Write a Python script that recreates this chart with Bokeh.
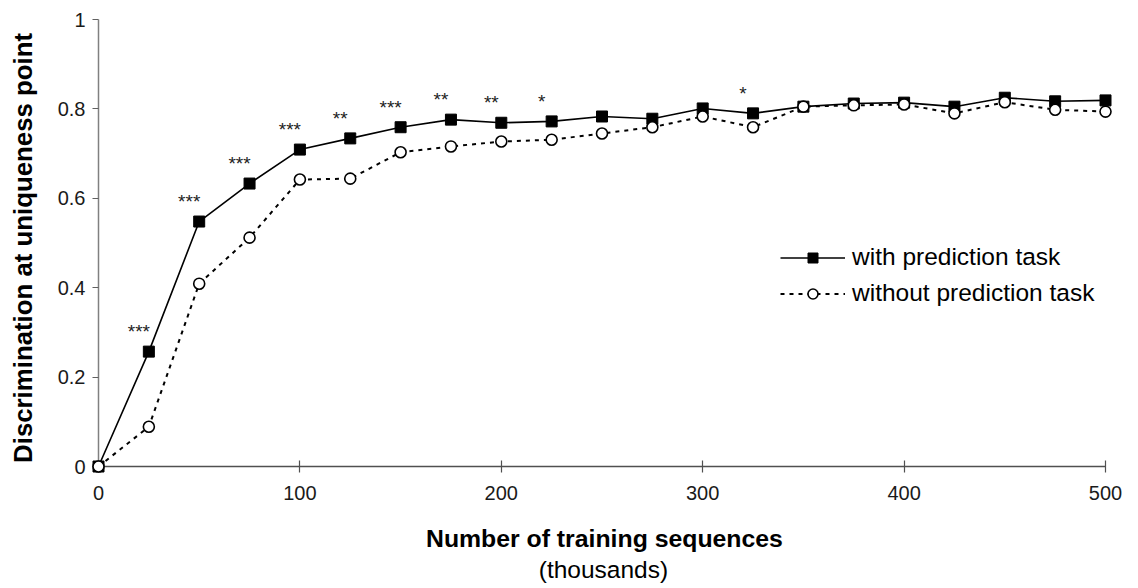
import math
from bokeh.plotting import figure
from bokeh.models import (Range1d, LinearAxis, FixedTicker, PrintfTickFormatter,
                          Legend, LegendItem, ColumnDataSource)
from bokeh.core.properties import value
from bokeh.embed import file_html
from bokeh.resources import INLINE

# ---- data (thousands of training sequences) ----
sequences_k = [0, 25, 50, 75, 100, 125, 150, 175, 200, 225, 250, 275, 300,
               325, 350, 375, 400, 425, 450, 475, 500]
with_prediction = [0.0, 0.257, 0.548, 0.633, 0.709, 0.734, 0.759, 0.776, 0.769,
                   0.772, 0.783, 0.778, 0.801, 0.790, 0.805, 0.812, 0.814, 0.805,
                   0.825, 0.817, 0.819]
without_prediction = [0.0, 0.089, 0.409, 0.512, 0.642, 0.644, 0.703, 0.716, 0.727,
                      0.731, 0.745, 0.759, 0.783, 0.759, 0.805, 0.808, 0.810, 0.790,
                      0.815, 0.798, 0.794]
significance = ["", "***", "***", "***", "***", "**", "***", "**", "**", "*", "",
                "", "", "*", "", "", "", "", "", "", ""]
x_ticks = [0, 100, 200, 300, 400, 500]
y_ticks = [0, 0.2, 0.4, 0.6, 0.8, 1]

y_title = "Discrimination at uniqueness point"
x_title = "Number of training sequences"
x_subtitle = "(thousands)"

FONT = "Liberation Sans"

src = ColumnDataSource(dict(x=sequences_k, w=with_prediction, wo=without_prediction,
                            sig=significance))

p = figure(width=1138, height=588,
           x_range=Range1d(0, 500), y_range=Range1d(0, 1),
           x_axis_type=None, y_axis_type=None,
           output_backend="svg", toolbar_location=None,
           min_border_left=98, min_border_right=33, min_border_top=19,
           min_border_bottom=122)
p.outline_line_color = None
p.background_fill_color = "white"
p.border_fill_color = "white"

# axes
yax = LinearAxis(ticker=FixedTicker(ticks=y_ticks),
                 formatter=PrintfTickFormatter(format="%g"))
yax.axis_line_color = "#808080"
yax.axis_line_width = 1.5
yax.major_tick_line_color = "#606060"
yax.major_tick_line_width = 1.2
yax.major_tick_in = 0
yax.major_tick_out = 6
yax.minor_tick_line_color = None
yax.major_label_standoff = 7
yax.major_label_text_font = FONT
yax.major_label_text_font_size = "20px"
yax.major_label_text_color = "#1a1a1a"
p.add_layout(yax, "left")

xax = LinearAxis(ticker=FixedTicker(ticks=x_ticks))
xax.axis_line_color = "#505050"
xax.axis_line_width = 1.5
xax.major_tick_line_color = "#505050"
xax.major_tick_line_width = 1.2
xax.major_tick_in = 6
xax.major_tick_out = 6
xax.minor_tick_line_color = None
xax.major_label_standoff = 13
xax.major_label_text_font = FONT
xax.major_label_text_font_size = "20px"
xax.major_label_text_color = "#1a1a1a"
p.add_layout(xax, "below")

# series (overlay level so edge markers are not clipped by the frame)
l1 = p.line("x", "w", source=src, line_color="black", line_width=1.6, level="overlay")
s1 = p.scatter("x", "w", source=src, marker="square", size=11,
               fill_color="black", line_color="black", line_width=1, level="overlay")
l2 = p.line("x", "wo", source=src, line_color="black", line_width=2,
            line_dash="4 5", level="overlay")
s2 = p.scatter("x", "wo", source=src, marker="circle", size=11,
               fill_color="white", line_color="black", line_width=1.6, level="overlay")

# significance stars
p.text("x", "w", text="sig", source=src, x_offset=-10, y_offset=-20,
       text_align="center", text_baseline="alphabetic",
       text_font=value(FONT), text_font_size="19px", text_color="#222222",
       level="overlay")

# axis titles
p.text(x=[-37.7], y=[0.489], text=[y_title], angle=math.pi / 2,
       text_align="center", text_baseline="middle",
       text_font=value(FONT), text_font_size="25.8px", text_font_style="bold",
       text_color="black", level="overlay")
p.text(x=[251.2], y=[-0.1611], text=[x_title],
       text_align="center", text_baseline="alphabetic",
       text_font=value(FONT), text_font_size="24.8px", text_font_style="bold",
       text_color="black", level="overlay")
p.text(x=[250.7], y=[-0.2312], text=[x_subtitle],
       text_align="center", text_baseline="alphabetic",
       text_font=value(FONT), text_font_size="24.5px",
       text_color="black", level="overlay")

legend = Legend(items=[LegendItem(label="with prediction task", renderers=[l1, s1]),
                       LegendItem(label="without prediction task", renderers=[l2, s2])],
                location=(672, 149))
legend.glyph_width = 65
legend.glyph_height = 25
legend.label_standoff = 7
legend.spacing = 8
legend.padding = 10
legend.margin = 0
legend.background_fill_alpha = 0
legend.border_line_alpha = 0
legend.label_text_font = FONT
legend.label_text_font_size = "24.5px"
legend.label_text_color = "black"
p.add_layout(legend)

open("out.html", "w").write(file_html(p, INLINE))
